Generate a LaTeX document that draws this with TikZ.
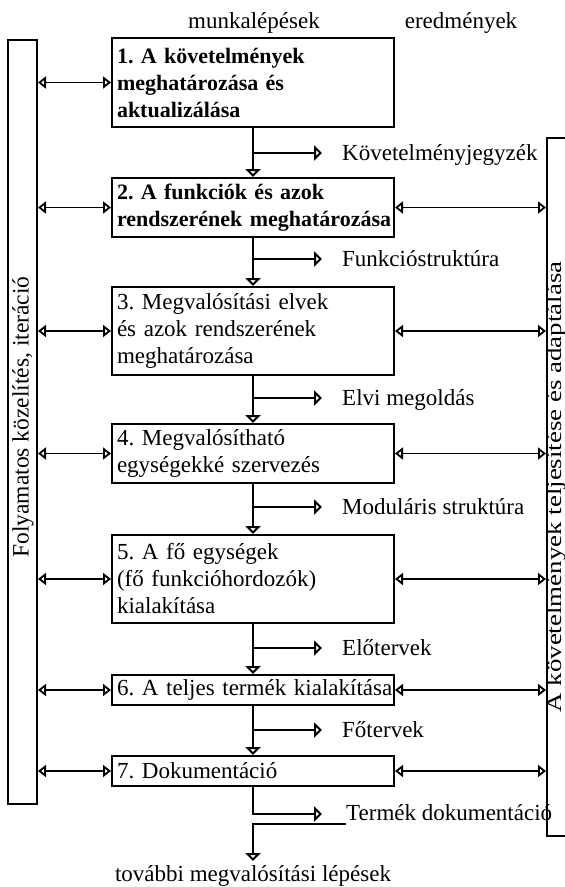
\documentclass[tikz,border=0pt]{standalone}
\usepackage{fontspec}
\setmainfont{Liberation Serif}
\newfontfamily\widefont[FakeStretch=1.25]{Liberation Serif}
\usetikzlibrary{arrows.meta}
\frenchspacing
\begin{document}
\begin{tikzpicture}[x=1pt,y=-1pt,
  txt/.style={font=\fontsize{23}{27}\selectfont, inner sep=0pt},
  stepbox/.style={draw, line width=2pt, minimum width=282pt, text width=272pt,
    align=left, inner xsep=5pt, inner ysep=0pt, font=\fontsize{23}{27}\selectfont},
  boldtext/.style={font=\fontsize{22}{27}\selectfont\bfseries},
  bar/.style={draw, line width=2pt, inner sep=0pt},
  tipv/.tip={Triangle[open, width=15pt, length=8pt, line width=2.2pt]},
  tiph/.tip={Triangle[open, width=12pt, length=8pt, line width=1.8pt]},
  flow/.style={line width=2.8pt, line join=miter, -tipv},
  dbl/.style={line width=1.7pt, tiph-tiph}
]
\clip (0,0) rectangle (565,887);
\fill[white] (0,0) rectangle (565,887);

% headings
\node[txt, anchor=base] (h1) at (254,28) {munkalépések};
\node[txt, anchor=base] (h2) at (461,28) {eredmények};

% side bars
\node[bar, minimum width=29pt, minimum height=764pt] (lbar) at (22.5,422) {};
\node[txt, font=\fontsize{23.5}{27}\selectfont, rotate=90] (ltext) at (23,417) {Folyamatos közelítés, iteráció};
\node[bar, minimum width=30pt, minimum height=698pt] (rbar) at (562,487) {};
\node[inner sep=0pt, font=\widefont\fontsize{21.5}{27}\selectfont, rotate=90, anchor=base] (rtext) at (561,487) {A követelmények teljesítése és adaptálása};

% steps
\node[stepbox, boldtext, minimum height=89pt] (b1) at (253,82.5) {\mbox{1. A követelmények}\\\mbox{meghatározása és}\\\mbox{aktualizálása}};
\node[stepbox, boldtext, minimum height=59pt] (b2) at (253,207.5) {\mbox{2. A funkciók és azok}\\\mbox{rendszerének meghatározása}};
\node[stepbox, minimum height=88pt] (b3) at (253,331) {\mbox{3. Megvalósítási elvek}\\\mbox{és azok rendszerének}\\\mbox{meghatározása}};
\node[stepbox, minimum height=59pt] (b4) at (253,453.5) {\mbox{4. Megvalósítható}\\\mbox{egységekké szervezés}};
\node[stepbox, minimum height=88pt] (b5) at (253,579) {\mbox{5. A fő egységek}\\\mbox{(fő funkcióhordozók)}\\\mbox{kialakítása}};
\node[stepbox, minimum height=30pt] (b6) at (253,690) {\mbox{6. A teljes termék kialakítása}};
\node[stepbox, minimum height=30pt] (b7) at (253,771) {\mbox{7. Dokumentáció}};

% vertical flow
\draw[flow] (b1.south) -- (b2.north);
\draw[flow] (b2.south) -- (b3.north);
\draw[flow] (b3.south) -- (b4.north);
\draw[flow] (b4.south) -- (b5.north);
\draw[flow] (b5.south) -- (b6.north);
\draw[flow] (b6.south) -- (b7.north);

% results
\coordinate (e1) at (322,153);
\coordinate (e2) at (322,259);
\coordinate (e3) at (322,398);
\coordinate (e4) at (322,507);
\coordinate (e5) at (322,648);
\coordinate (e6) at (322,730);
\draw[flow] (b1.south |- e1) -- (e1);
\draw[flow] (b2.south |- e2) -- (e2);
\draw[flow] (b3.south |- e3) -- (e3);
\draw[flow] (b4.south |- e4) -- (e4);
\draw[flow] (b5.south |- e5) -- (e5);
\draw[flow] (b6.south |- e6) -- (e6);
\node[txt, anchor=base west] (r1) at (342,160) {Követelményjegyzék};
\node[txt, anchor=base west] (r2) at (342,266) {Funkcióstruktúra};
\node[txt, anchor=base west] (r3) at (342,405) {Elvi megoldás};
\node[txt, anchor=base west] (r4) at (342,514) {Moduláris struktúra};
\node[txt, anchor=base west] (r5) at (342,655) {Előtervek};
\node[txt, anchor=base west] (r6) at (342,737) {Főtervek};

% last step outputs
\coordinate (c7) at (253,814);
\coordinate (e7) at (322,814);
\draw[flow] (b7.south) -- (c7) -- (e7);
\node[txt, anchor=base west] (r7) at (346,820) {Termék dokumentáció};
\coordinate (u1) at (346,824);
\coordinate (u2) at (253,824);
\coordinate (e8) at (253,861);
\draw[flow] (u1) -- (u2) -- (e8);
\node[txt, anchor=base] (fin) at (253,881) {további megvalósítási lépések};

% iteration arrows
\draw[dbl] (lbar.east |- b1.west) -- (b1.west);
\draw[dbl] (lbar.east |- b2.west) -- (b2.west);
\draw[dbl] (lbar.east |- b3.west) -- (b3.west);
\draw[dbl] (lbar.east |- b4.west) -- (b4.west);
\draw[dbl] (lbar.east |- b5.west) -- (b5.west);
\draw[dbl] (lbar.east |- b6.west) -- (b6.west);
\draw[dbl] (lbar.east |- b7.west) -- (b7.west);
% adaptation arrows
\draw[dbl] (b2.east) -- (rbar.west |- b2.east);
\draw[dbl] (b3.east) -- (rbar.west |- b3.east);
\draw[dbl] (b4.east) -- (rbar.west |- b4.east);
\draw[dbl] (b5.east) -- (rbar.west |- b5.east);
\draw[dbl] (b6.east) -- (rbar.west |- b6.east);
\draw[dbl] (b7.east) -- (rbar.west |- b7.east);
\end{tikzpicture}
\end{document}
